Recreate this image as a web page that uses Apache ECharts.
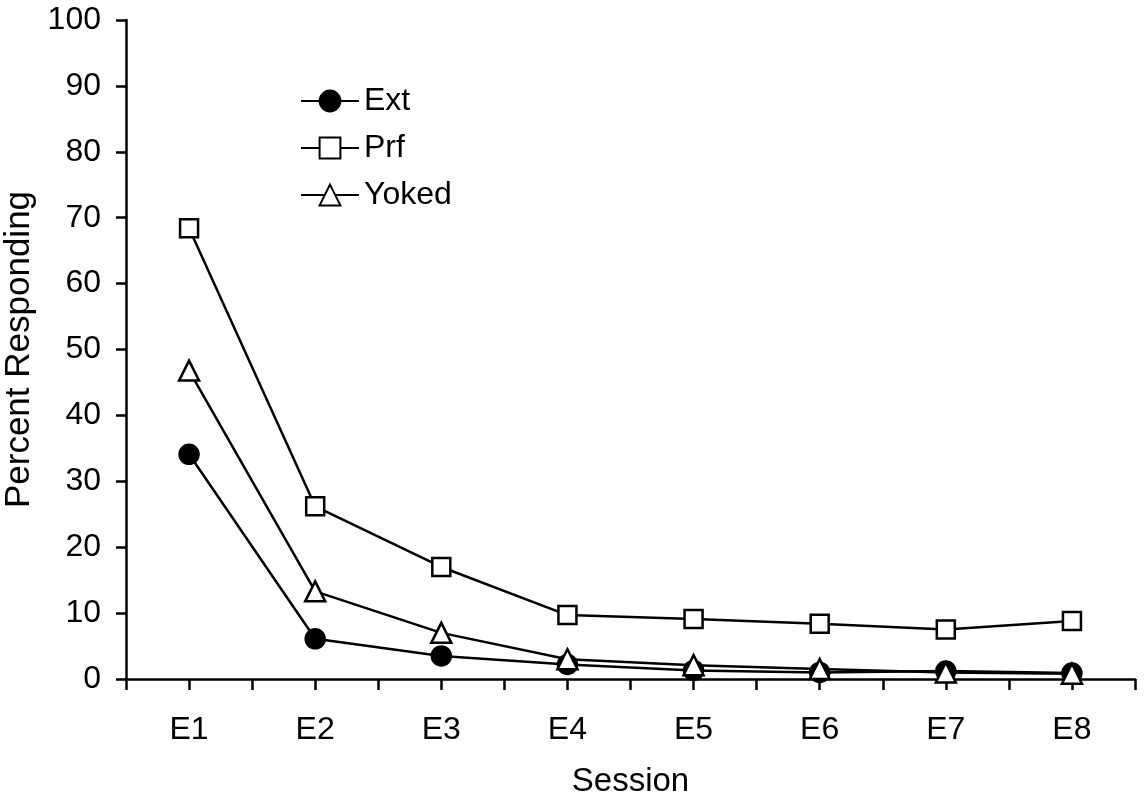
<!DOCTYPE html>
<html><head><meta charset="utf-8">
<script src="https://cdn.jsdelivr.net/npm/echarts@6/dist/echarts.min.js"></script>
<style>html,body{margin:0;padding:0;background:#fff}#c{width:1144px;height:803px}</style>
</head><body><div id="c"></div>
<script>
const categories = ['E1','E2','E3','E4','E5','E6','E7','E8'];
const extValues = [34.1, 6.1, 3.5, 2.2, 1.3, 1.0, 1.2, 0.9];
const prfValues = [68.4, 26.2, 17.0, 9.7, 9.1, 8.4, 7.5, 8.8];
const yokedValues = [46.8, 13.3, 7.0, 3.0, 2.1, 1.5, 1.0, 0.8];
const yTicks = {min: 0, max: 100, interval: 10};

const font = 'Liberation Sans, Arial, sans-serif';
const chart = echarts.init(document.getElementById('c'));
const lineStyle = {color: '#000', width: 2.5};
function mk(name, data, symbol, size, fill) {
  return {
    name, type: 'line', data, symbol, symbolSize: size,
    xAxisIndex: 0, yAxisIndex: 0,
    lineStyle, itemStyle: {color: fill, borderColor: '#000', borderWidth: 2.5},
    emphasis: {disabled: true}, animation: false
  };
}
chart.setOption({
  backgroundColor: '#fff',
  grid: {left: 126, top: 20, right: 9, bottom: 124, containLabel: false, outerBoundsMode: 'none'},
  legend: {
    orient: 'vertical', left: 295, top: 80, itemGap: 15,
    itemWidth: 58, itemHeight: 26,
    textStyle: {fontFamily: font, fontSize: 32, lineHeight: 32, color: '#000', padding: [0,0,0,0]},
    data: ['Ext','Prf','Yoked']
  },
  xAxis: [{
    type: 'category', data: categories, boundaryGap: true,
    name: 'Session', nameLocation: 'middle', nameGap: 86,
    nameTextStyle: {fontFamily: font, fontSize: 33, color: '#000'},
    axisLine: {lineStyle: {color: '#000', width: 2.5}},
    axisTick: {show: true, length: 11, lineStyle: {color: '#000', width: 2.5}},
    axisLabel: {fontFamily: font, fontSize: 32, color: '#000', margin: 35}
  }, {
    type: 'category', data: categories, boundaryGap: true, position: 'bottom',
    axisLine: {show: false},
    axisTick: {show: true, alignWithLabel: true, length: 11, lineStyle: {color: '#000', width: 2.5}},
    axisLabel: {show: false}
  }],
  yAxis: {
    type: 'value', min: yTicks.min, max: yTicks.max, interval: yTicks.interval,
    name: 'Percent Responding', nameLocation: 'middle', nameGap: 87, nameRotate: 90,
    nameTextStyle: {fontFamily: font, fontSize: 35, color: '#000'},
    splitLine: {show: false},
    axisLine: {show: true, lineStyle: {color: '#000', width: 2.5}},
    axisTick: {show: true, length: 10, lineStyle: {color: '#000', width: 2.5}},
    axisLabel: {fontFamily: font, fontSize: 32, color: '#000', margin: 25}
  },
  series: [
    mk('Ext', extValues, 'circle', 19, '#000'),
    mk('Prf', prfValues, 'rect', 18, '#fff'),
    mk('Yoked', yokedValues, 'triangle', 20, '#fff')
  ]
});
</script></body></html>
